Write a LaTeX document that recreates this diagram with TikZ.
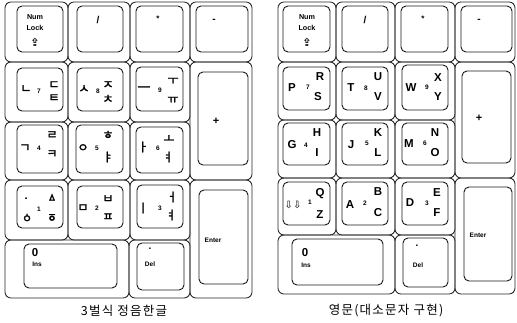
\documentclass[tikz,border=0pt]{standalone}
\usepackage{fontspec}
\setmainfont{Liberation Sans}
\newfontfamily\kr{Noto Sans CJK KR}[LetterSpace=10]
\newfontfamily\krb{Noto Sans CJK KR}[FakeBold=2]
\newfontfamily\dv{DejaVu Sans}
\tikzset{
  cellbox/.style={draw=black!85, line width=0.85pt, rounded corners=6pt, inner sep=0pt},
  keybox/.style={draw=black!90, line width=0.9pt, rounded corners=5pt, inner sep=0pt},
  big/.style={font=\bfseries\fontsize{11.5}{12}\selectfont, inner sep=0pt},
  dig/.style={font=\bfseries\fontsize{6.5}{7}\selectfont, inner sep=0pt},
  jamo/.style={font=\krb\fontsize{12}{12}\selectfont, inner sep=0pt},
  small/.style={font=\bfseries\fontsize{6.5}{7}\selectfont, inner sep=0pt},
  nl/.style={font=\bfseries\fontsize{7.2}{8}\selectfont, inner sep=0pt},
  sym/.style={font=\bfseries\fontsize{10}{10}\selectfont, inner sep=0pt},
  zero/.style={font=\bfseries\fontsize{11.5}{12}\selectfont, inner sep=0pt},
  capt/.style={font=\kr\fontsize{12.5}{12.5}\selectfont, inner sep=0pt},
  lockarrow/.style={font=\dv\bfseries\fontsize{11}{11}\selectfont, inner sep=0pt},
}
\newcommand\cellat[5]{\node[cellbox, minimum width={(#4-#2)*1pt}, minimum height={(#5-#3)*1pt}] (#1) at ({(#2+#4)/2},{(#3+#5)/2}) {};}
\newcommand\keyat[5]{\node[keybox, minimum width={(#4-#2)*1pt}, minimum height={(#5-#3)*1pt}] (#1) at ({(#2+#4)/2},{(#3+#5)/2}) {};}
\begin{document}
\begin{tikzpicture}[x=1pt,y=-1pt]
\useasboundingbox (0,0) rectangle (517,323);
% ---------------- left keypad: cells
\cellat{L11}{5}{2}{68}{62}\cellat{L12}{68}{2}{130}{62}\cellat{L13}{130}{2}{190}{62}\cellat{L14}{190}{2}{252}{62}
\cellat{L21}{5}{62}{68}{122}\cellat{L22}{68}{62}{130}{122}\cellat{L23}{130}{62}{190}{122}\cellat{LP}{190}{62}{252}{180}
\cellat{L31}{5}{122}{68}{180}\cellat{L32}{68}{122}{130}{180}\cellat{L33}{130}{122}{190}{180}
\cellat{L41}{5}{180}{68}{240}\cellat{L42}{68}{180}{130}{240}\cellat{L43}{130}{180}{190}{240}\cellat{LE}{190}{180}{252}{298}
\cellat{L51}{5}{240}{129}{298}\cellat{L52}{129}{240}{190}{298}
% keys
\keyat{Lnum}{17}{6}{63}{52}\keyat{Lslash}{77}{6}{123}{52}\keyat{Lstar}{136}{6}{183}{52}\keyat{Lminus}{196}{6}{248}{52}
\keyat{L7}{17}{68}{63}{111}\keyat{L8}{77}{68}{123}{111}\keyat{L9}{136}{67}{183}{111}
\keyat{Lplus}{198}{72}{248}{165}
\keyat{L4}{17}{125}{63}{173}\keyat{L5}{76}{125}{123}{173}\keyat{L6}{136}{127}{183}{173}
\keyat{L1}{17}{186}{63}{228}\keyat{L2}{77}{186}{123}{228}\keyat{L3}{137}{185}{183}{228}
\keyat{Lenter}{199}{190}{248}{284}
\keyat{L0}{24}{244}{117}{288}\keyat{Ldel}{137}{243}{184}{290}
% texts
\node[nl] (lnum1) at (35,17) {Num};
\node[nl] (lnum2) at (35,28) {Lock};
\node[lockarrow] (lnum3) at (35,42) {⇪};
\node[sym] (lsl) at (98,20) {/};
\node[font=\bfseries\fontsize{8}{8}\selectfont, inner sep=0pt] (lst) at (158,19) {*};
\node[sym] (lmi) at (214,21) {-};
\node[jamo] (l7a) at (26,89) {ㄴ};\node[dig] (l7b) at (39,91) {7};
\node[jamo] (l7c) at (54,85) {ㄷ};\node[jamo] (l7d) at (54,98) {ㅌ};
\node[jamo] (l8a) at (84,89) {ㅅ};\node[dig] (l8b) at (98,91) {8};
\node[jamo] (l8c) at (108,85) {ㅈ};\node[jamo] (l8d) at (108,99) {ㅊ};
\node[jamo, xscale=1.2] (l9a) at (144,89) {ㅡ};\node[dig] (l9b) at (160,90) {9};
\node[jamo] (l9c) at (173,81) {ㅜ};\node[jamo] (l9d) at (173,100) {ㅠ};
\node[font=\bfseries\fontsize{11}{11}\selectfont, inner sep=0pt] (lpl) at (216,121) {+};
\node[jamo] (l4a) at (25,148) {ㄱ};\node[dig] (l4b) at (39,148) {4};
\node[jamo] (l4c) at (52,135) {ㄹ};\node[jamo] (l4d) at (52,154) {ㅋ};
\node[jamo] (l5a) at (83,148) {ㅇ};\node[dig] (l5b) at (97,148) {5};
\node[jamo] (l5c) at (108,135) {ㅎ};\node[jamo] (l5d) at (108,157) {ㅑ};
\node[jamo] (l6a) at (143,147) {ㅏ};\node[dig] (l6b) at (158,148) {6};
\node[jamo] (l6c) at (169,139) {ㅗ};\node[jamo] (l6d) at (168,157) {ㅕ};
\node[jamo] (l1a) at (26,200) {ㆍ};\node[dig] (l1b) at (39,209) {1};
\node[jamo] (l1c) at (52,198) {ㅿ};\node[jamo] (l1d) at (27,218) {ㆁ};
\node[jamo] (l1e) at (52,218) {ㆆ};
\node[jamo] (l2a) at (83,208) {ㅁ};\node[dig] (l2b) at (97,208) {2};
\node[jamo] (l2c) at (108,199) {ㅂ};\node[jamo] (l2d) at (108,217) {ㅍ};
\node[jamo] (l3a) at (143,208) {ㅣ};\node[dig] (l3b) at (160,208) {3};
\node[jamo] (l3c) at (172,197) {ㅓ};\node[jamo] (l3d) at (171,215) {ㅕ};
\node[small] (lent) at (213,240) {Enter};
\node[zero] (l0a) at (35,253) {0};\node[small] (l0b) at (37,264) {Ins};
\node[sym] (lda) at (150,249) {.};\node[small] (ldb) at (150,264) {Del};
\node[capt] (lcap) at (124,311) {3벌식 정음한글};
% ---------------- right keypad: cells
\cellat{R11}{278}{2}{336}{62}\cellat{R12}{336}{2}{395}{62}\cellat{R13}{395}{2}{455}{62}\cellat{R14}{455}{2}{515}{62}
\cellat{R21}{278}{62}{336}{120}\cellat{R22}{336}{62}{395}{120}\cellat{R23}{395}{62}{455}{120}\cellat{RP}{455}{62}{515}{178}
\cellat{R31}{278}{120}{336}{178}\cellat{R32}{336}{120}{395}{178}\cellat{R33}{395}{120}{455}{178}
\cellat{R41}{278}{178}{336}{235}\cellat{R42}{336}{178}{395}{235}\cellat{R43}{395}{178}{455}{235}\cellat{RE}{455}{178}{515}{294}
\cellat{R51}{278}{235}{395}{294}\cellat{R52}{395}{235}{455}{294}
% keys
\keyat{Rnum}{283}{6}{330}{52}\keyat{Rslash}{342}{6}{388}{52}\keyat{Rstar}{401}{6}{448}{52}\keyat{Rminus}{461}{6}{512}{52}
\keyat{R7}{283}{67}{330}{110}\keyat{R8}{342}{67}{388}{110}\keyat{R9}{402}{65}{448}{110}
\keyat{Rplus}{462}{71}{511}{163}
\keyat{R4}{283}{123}{330}{165}\keyat{R5}{342}{123}{388}{165}\keyat{R6}{402}{123}{448}{165}
\keyat{R1}{283}{182}{330}{225}\keyat{R2}{342}{182}{388}{225}\keyat{R3}{402}{182}{448}{225}
\keyat{Renter}{464}{187}{512}{281}
\keyat{R0}{292}{239}{383}{285}\keyat{Rdel}{403}{238}{448}{287}
% texts
\node[nl] (rnum1) at (307,17) {Num};
\node[nl] (rnum2) at (307,28) {Lock};
\node[lockarrow] (rnum3) at (307,42) {⇪};
\node[sym] (rsl) at (365,20) {/};
\node[font=\bfseries\fontsize{8}{8}\selectfont, inner sep=0pt] (rst) at (423,19) {*};
\node[sym] (rmi) at (479,21) {-};
\node[big] (r7a) at (292,88) {P};\node[dig] (r7b) at (308,87) {7};
\node[big] (r7c) at (320,77) {R};\node[big] (r7d) at (318,97) {S};
\node[big] (r8a) at (351,88) {T};\node[dig] (r8b) at (366,88) {8};
\node[big] (r8c) at (378,77) {U};\node[big] (r8d) at (378,97) {V};
\node[big] (r9a) at (411,88) {W};\node[dig] (r9b) at (427,87) {9};
\node[big] (r9c) at (438,78) {X};\node[big] (r9d) at (438,97) {Y};
\node[font=\bfseries\fontsize{11}{11}\selectfont, inner sep=0pt] (rpl) at (479,118) {+};
\node[big] (r4a) at (292,145) {G};\node[dig] (r4b) at (306,145) {4};
\node[big] (r4c) at (317,133) {H};\node[big] (r4d) at (317,153) {I};
\node[big] (r5a) at (351,145) {J};\node[dig] (r5b) at (367,143) {5};
\node[big] (r5c) at (378,133) {K};\node[big] (r5d) at (378,153) {L};
\node[big] (r6a) at (409,144) {M};\node[dig] (r6b) at (425,143) {6};
\node[big] (r6c) at (435,133) {N};\node[big] (r6d) at (435,153) {O};
\node[font=\dv\fontsize{10}{10}\selectfont, inner sep=0pt] (r1a) at (293,205) {⇩⇩};\node[dig] (r1b) at (310,202) {1};
\node[big] (r1c) at (320,194) {Q};\node[big] (r1d) at (320,215) {Z};
\node[big] (r2a) at (350,205) {A};\node[dig] (r2b) at (365,203) {2};
\node[big] (r2c) at (378,192) {B};\node[big] (r2d) at (378,213) {C};
\node[big] (r3a) at (410,203) {D};\node[dig] (r3b) at (427,203) {3};
\node[big] (r3c) at (437,193) {E};\node[big] (r3d) at (437,213) {F};
\node[small] (rent) at (478,235) {Enter};
\node[zero] (r0a) at (305,253) {0};\node[small] (r0b) at (306,265) {Ins};
\node[sym] (rda) at (417,246) {.};\node[small] (rdb) at (418,265) {Del};
\node[capt] (rcap) at (386,311) {영문(대소문자 구현)};
\end{tikzpicture}
\end{document}
